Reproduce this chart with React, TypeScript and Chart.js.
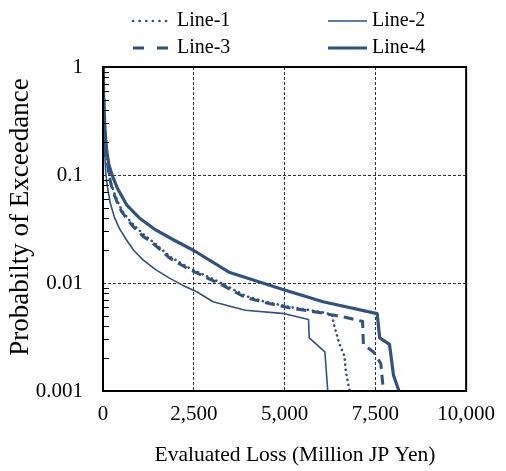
import React, { useEffect, useRef } from 'react';
import { Chart, registerables } from 'chart.js';

Chart.register(...registerables);

// ---- Data ----
const SERIES_NAMES = ['Line-1', 'Line-2', 'Line-3', 'Line-4'];

const LINE1_X = [0, 15, 30, 60, 100, 170, 230, 310, 410, 520, 700, 900, 1130, 1380, 1860, 2370, 2900, 3250, 3920, 4460, 5260, 6000, 6300, 6370, 6500, 6650, 6690, 6790];
const LINE1_Y = [1, 0.6, 0.4, 0.22, 0.15, 0.1, 0.082, 0.068, 0.056, 0.047, 0.039, 0.033, 0.028, 0.024, 0.0174, 0.0138, 0.0114, 0.01, 0.0076, 0.0067, 0.0059, 0.0054, 0.0051, 0.004, 0.0028, 0.0021, 0.0015, 0.001];

const LINE2_X = [0, 10, 25, 50, 80, 130, 200, 310, 450, 650, 850, 1110, 1450, 1830, 2200, 2580, 3030, 3920, 5000, 5660, 5680, 6110, 6190];
const LINE2_Y = [1, 0.5, 0.25, 0.15, 0.1, 0.075, 0.055, 0.041, 0.032, 0.025, 0.02, 0.0163, 0.0133, 0.0111, 0.0095, 0.0083, 0.0067, 0.0056, 0.0052, 0.0046, 0.0031, 0.0023, 0.001];

const LINE3_X = [0, 15, 30, 60, 100, 165, 225, 300, 400, 510, 690, 880, 1110, 1360, 1840, 2350, 2880, 3230, 3900, 4440, 5240, 6000, 6250, 6700, 7150, 7170, 7450, 7650, 7700, 7720];
const LINE3_Y = [1, 0.6, 0.4, 0.22, 0.15, 0.1, 0.081, 0.067, 0.055, 0.046, 0.038, 0.032, 0.027, 0.0235, 0.017, 0.0135, 0.0111, 0.0098, 0.0074, 0.0066, 0.0058, 0.0053, 0.0051, 0.0048, 0.0044, 0.0027, 0.0023, 0.0018, 0.0012, 0.001];

const LINE4_X = [0, 15, 30, 60, 100, 160, 250, 400, 650, 1000, 1450, 1950, 2500, 3470, 5000, 6060, 7550, 7620, 7890, 8000, 8150];
const LINE4_Y = [1, 0.6, 0.4, 0.25, 0.17, 0.125, 0.1, 0.075, 0.053, 0.04, 0.031, 0.025, 0.02, 0.0126, 0.0086, 0.0067, 0.0052, 0.0031, 0.0027, 0.0014, 0.001];

const X_TICKS = [0, 2500, 5000, 7500, 10000];
const Y_TICKS = [0.001, 0.01, 0.1, 1];
const Y_MINOR_MULT = [2, 3, 4, 5, 6, 7, 8, 9];

const X_TITLE = 'Evaluated Loss (Million JP Yen)';
const Y_TITLE = 'Probabilty of Exceedance';

const COLOR = '#2f5282';
const FONT = "'Liberation Serif', 'Times New Roman', serif";

const toPoints = (xs: number[], ys: number[]) => xs.map((x, i) => ({ x, y: ys[i] }));

// legend layout [sampleStart, sampleEnd, textX, y]
const LEGEND_POS = [
  [133, 168, 177, 21],
  [328, 367, 372, 21],
  [133, 168, 177, 48],
  [328, 367, 372, 48],
];

const decorPlugin = {
  id: 'decor',
  afterDatasetsDraw(chart: any) {
    const { ctx, chartArea: a, scales } = chart;
    const y = scales.y;
    ctx.save();
    ctx.strokeStyle = '#000';
    ctx.lineWidth = 1;
    ctx.beginPath();
    for (let d = 0; d < Y_TICKS.length - 1; d++) {
      for (const m of Y_MINOR_MULT) {
        const py = Math.round(y.getPixelForValue(Y_TICKS[d] * m)) + 0.5;
        ctx.moveTo(a.left, py);
        ctx.lineTo(a.left + 6, py);
      }
    }
    ctx.stroke();
    ctx.lineWidth = 2;
    ctx.strokeStyle = '#000';
    ctx.strokeRect(a.left, a.top, a.right - a.left, a.bottom - a.top);
    ctx.restore();
  },
  afterDraw(chart: any) {
    const { ctx } = chart;
    ctx.save();
    ctx.fillStyle = '#000';
    ctx.textAlign = 'center';
    ctx.textBaseline = 'middle';
    ctx.font = `21.5px ${FONT}`;
    ctx.fillText(X_TITLE, 295, 455);
    ctx.save();
    ctx.translate(21, 217);
    ctx.rotate(-Math.PI / 2);
    ctx.font = `27px ${FONT}`;
    ctx.fillText(Y_TITLE, 0, 0);
    ctx.restore();
    chart.data.datasets.forEach((ds: any, i: number) => {
      const [x0, x1, tx, ly] = LEGEND_POS[i];
      ctx.save();
      ctx.strokeStyle = ds.borderColor;
      ctx.lineWidth = ds.borderWidth;
      ctx.lineCap = ds.borderCapStyle || 'butt';
      ctx.setLineDash(ds.legendDash || ds.borderDash || []);
      ctx.beginPath();
      ctx.moveTo(x0, ly);
      ctx.lineTo(x1, ly);
      ctx.stroke();
      ctx.restore();
      ctx.fillStyle = '#000';
      ctx.textAlign = 'left';
      ctx.textBaseline = 'middle';
      ctx.font = `20px ${FONT}`;
      ctx.fillText(ds.label, tx, ly);
    });
    ctx.restore();
  },
};

export default function App() {
  const ref = useRef<HTMLCanvasElement | null>(null);

  useEffect(() => {
    if (!ref.current) return;
    const common = { pointRadius: 0, tension: 0, borderColor: COLOR, borderJoinStyle: 'round' as const };
    const chart = new Chart(ref.current, {
      type: 'line',
      data: {
        datasets: [
          {
            ...common,
            label: SERIES_NAMES[0],
            data: toPoints(LINE1_X, LINE1_Y),
            borderWidth: 2.6,
            borderDash: [0.1, 5],
            borderCapStyle: 'round',
            legendDash: [0.1, 6.5],
          } as any,
          {
            ...common,
            label: SERIES_NAMES[1],
            data: toPoints(LINE2_X, LINE2_Y),
            borderWidth: 1.6,
          },
          {
            ...common,
            label: SERIES_NAMES[2],
            data: toPoints(LINE3_X, LINE3_Y),
            borderWidth: 3,
            borderDash: [10, 6],
            legendDash: [11, 13],
          } as any,
          {
            ...common,
            label: SERIES_NAMES[3],
            data: toPoints(LINE4_X, LINE4_Y),
            borderWidth: 3.2,
          },
        ],
      },
      options: {
        animation: false,
        responsive: false,
        layout: { padding: { top: 67, right: 29, left: 0, bottom: 0 } },
        plugins: {
          legend: { display: false },
          tooltip: { enabled: false },
        },
        scales: {
          x: {
            type: 'linear',
            min: 0,
            max: 10000,
            afterBuildTicks: (axis: any) => {
              axis.ticks = X_TICKS.map((v) => ({ value: v }));
            },
            afterFit: (scale: any) => {
              scale.height = 80;
            },
            ticks: {
              autoSkip: false,
              maxRotation: 0,
              padding: 11,
              color: '#000',
              font: { family: FONT, size: 21 },
              callback: (v: any) => Number(v).toLocaleString('en-US'),
            },
            grid: {
              drawTicks: false,
              color: (c: any) =>
                c.tick && c.tick.value > 0 && c.tick.value < 10000 ? '#333' : 'transparent',
              lineWidth: 1,
            },
            border: { display: false, dash: [3, 2] },
          },
          y: {
            type: 'logarithmic',
            min: 0.001,
            max: 1,
            afterBuildTicks: (axis: any) => {
              axis.ticks = Y_TICKS.map((v) => ({ value: v }));
            },
            afterFit: (scale: any) => {
              scale.width = 103;
            },
            ticks: {
              autoSkip: false,
              padding: 20,
              color: '#000',
              font: { family: FONT, size: 21 },
              callback: (v: any) => String(v),
            },
            grid: {
              drawTicks: false,
              color: (c: any) =>
                c.tick && c.tick.value > 0.001 && c.tick.value < 1 ? '#333' : 'transparent',
              lineWidth: 1,
            },
            border: { display: false, dash: [3, 2] },
          },
        },
      },
      plugins: [decorPlugin],
    });
    return () => chart.destroy();
  }, []);

  return (
    <div style={{ position: 'absolute', left: 0, top: 0, width: 506, height: 471 }}>
      <canvas ref={ref} width={506} height={471} style={{ display: 'block' }} />
    </div>
  );
}
